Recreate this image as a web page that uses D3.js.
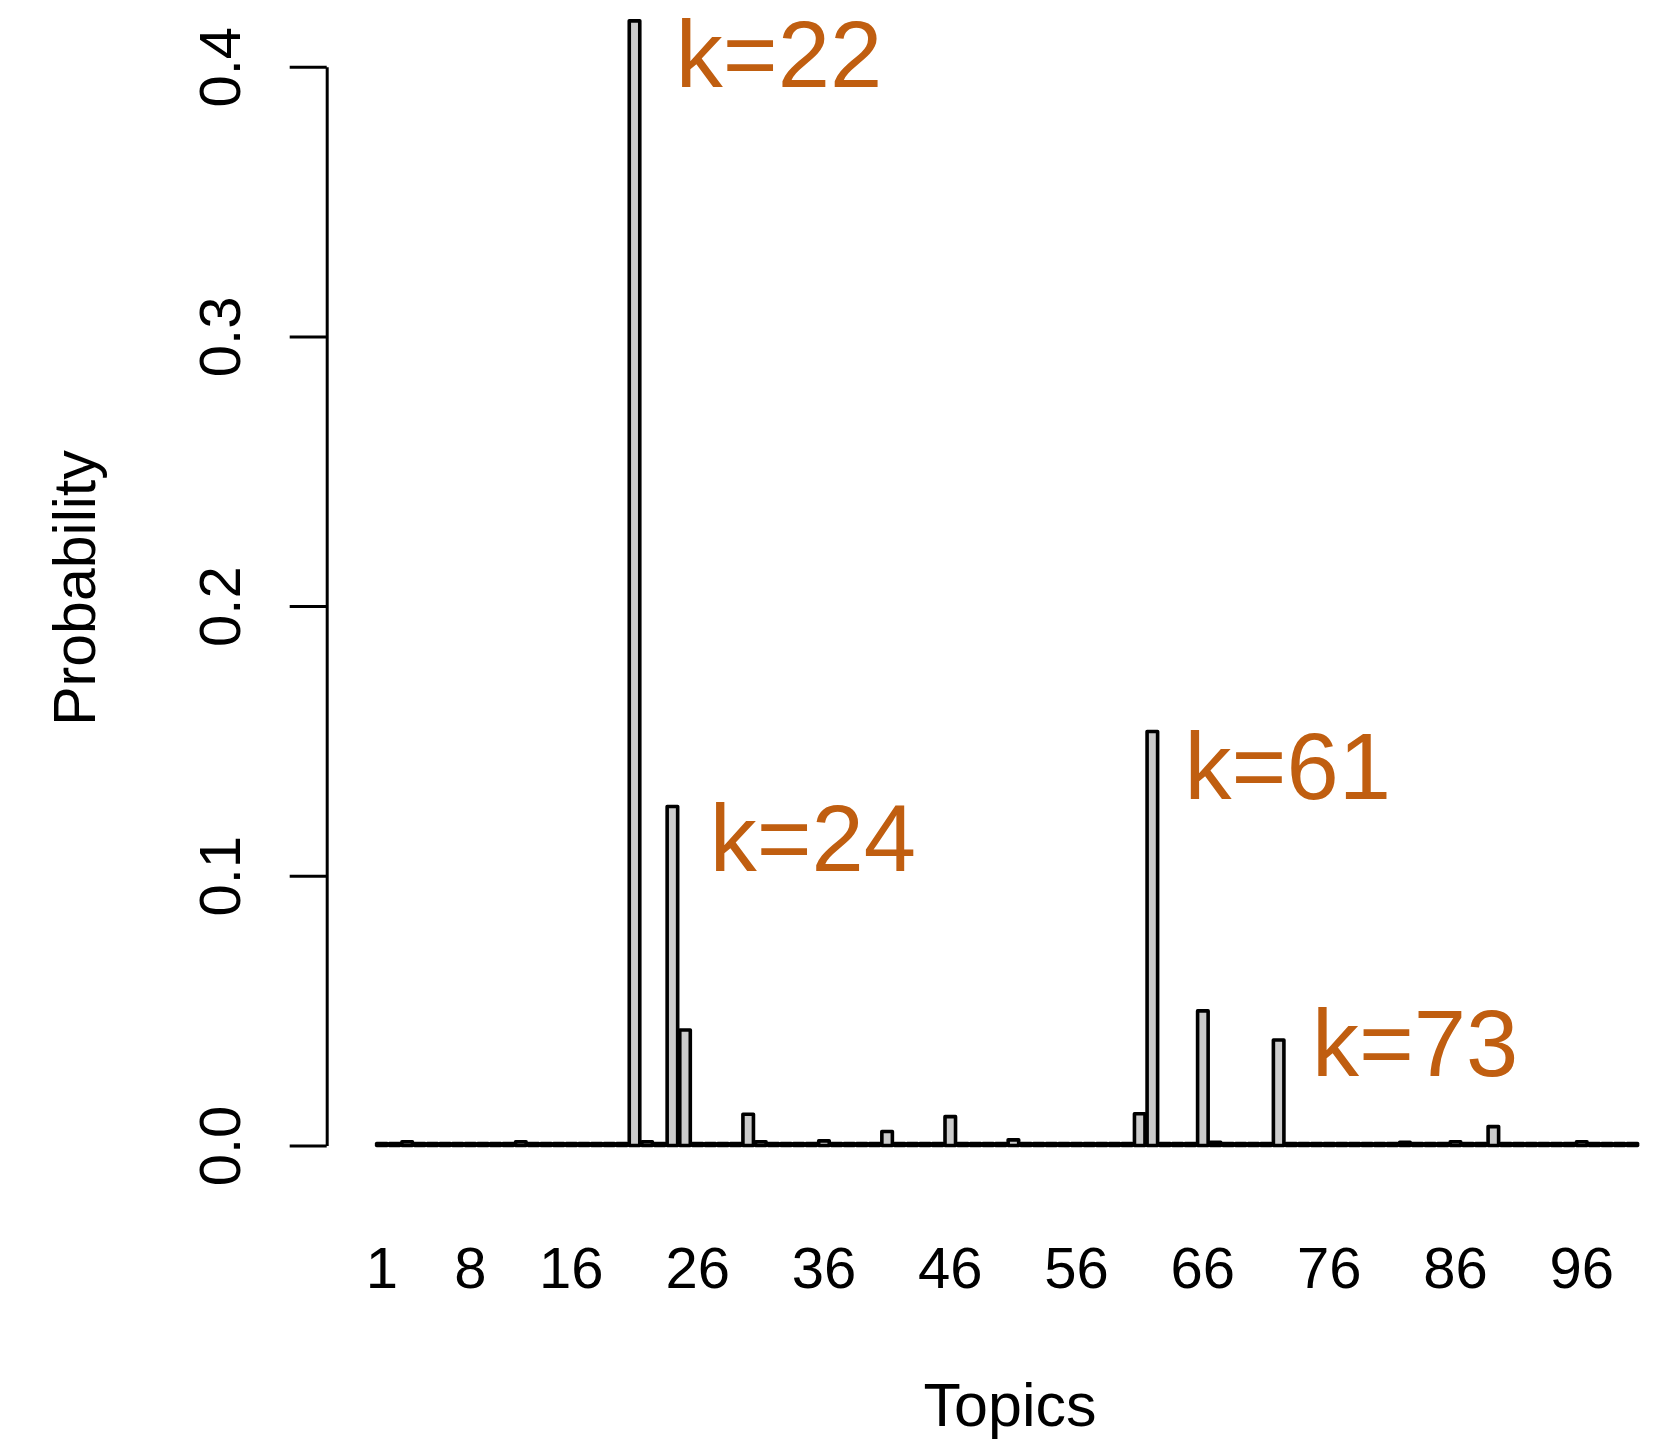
<!DOCTYPE html>
<html>
<head>
<meta charset="utf-8">
<script src="https://cdn.jsdelivr.net/npm/d3@7"></script>
<style>
  html, body { margin: 0; padding: 0; background: #fff; }
  svg { display: block; }
  text { font-family: "Liberation Sans", Arial, Helvetica, sans-serif; }
</style>
</head>
<body>
<svg id="chart" width="1665" height="1441"></svg>
<script>
// ---- data ----
const topics = d3.range(1, 101);
const probabilities = [
  0.0007, 0.0007, 0.0014, 0.0007, 0.0007, 0.0007, 0.0007, 0.0007, 0.0007, 0.0007,
  0.0007, 0.0014, 0.0007, 0.0007, 0.0007, 0.0007, 0.0007, 0.0007, 0.0007, 0.0007,
  0.4170, 0.0014, 0.0007, 0.1257, 0.0428, 0.0007, 0.0007, 0.0007, 0.0007, 0.0116,
  0.0014, 0.0007, 0.0007, 0.0007, 0.0007, 0.0017, 0.0007, 0.0007, 0.0007, 0.0007,
  0.0052, 0.0007, 0.0007, 0.0007, 0.0007, 0.0107, 0.0007, 0.0007, 0.0007, 0.0007,
  0.0021, 0.0007, 0.0007, 0.0007, 0.0007, 0.0007, 0.0007, 0.0007, 0.0007, 0.0007,
  0.0118, 0.1535, 0.0007, 0.0007, 0.0007, 0.0499, 0.0012, 0.0007, 0.0007, 0.0007,
  0.0007, 0.0391, 0.0007, 0.0007, 0.0007, 0.0007, 0.0007, 0.0007, 0.0007, 0.0007,
  0.0007, 0.0012, 0.0007, 0.0007, 0.0007, 0.0014, 0.0007, 0.0007, 0.0070, 0.0007,
  0.0007, 0.0007, 0.0007, 0.0007, 0.0007, 0.0014, 0.0007, 0.0007, 0.0007, 0.0007
];
const xTickLabels = [1, 8, 16, 26, 36, 46, 56, 66, 76, 86, 96];
const yTicks = [0, 0.1, 0.2, 0.3, 0.4];
const annotations = [
  { label: "k=22", topic: 21, value: 0.4170 },
  { label: "k=24", topic: 24, value: 0.1257 },
  { label: "k=61", topic: 62, value: 0.1535 },
  { label: "k=73", topic: 72, value: 0.0391 }
];

// ---- layout ----
const svg = d3.select("#chart");
const fontSize = 58;
const accent = "#C05E10";

const x = d3.scaleBand()
  .domain(topics)
  .range([375.6, 1638.6])
  .paddingInner(1 / 6)
  .paddingOuter(1 / 12);

const y = d3.scaleLinear()
  .domain([0, 0.4])
  .range([1145.5, 66.7]);

// bars
svg.append("g")
  .selectAll("rect")
  .data(topics)
  .join("rect")
  .attr("x", d => x(d))
  .attr("width", x.bandwidth())
  .attr("y", (d, i) => y(probabilities[i]))
  .attr("height", (d, i) => y(0) - y(probabilities[i]))
  .attr("fill", "#cccccc")
  .attr("stroke", "#000")
  .attr("stroke-width", 3.6)
  .attr("stroke-linejoin", "round");

// y axis
const yAxis = svg.append("g")
  .attr("transform", "translate(326.7,0)")
  .call(d3.axisLeft(y)
    .tickValues(yTicks)
    .tickFormat(d3.format(".1f"))
    .tickSize(37)
    .tickSizeOuter(0));
yAxis.select(".domain").attr("stroke", "#000").attr("stroke-width", 3);
yAxis.selectAll(".tick line").attr("stroke", "#000").attr("stroke-width", 3);
yAxis.selectAll(".tick text")
  .attr("transform", "rotate(-90)")
  .attr("x", 0)
  .attr("y", -86.7)
  .attr("dy", 0)
  .attr("text-anchor", "middle")
  .attr("font-size", fontSize)
  .attr("font-family", "Liberation Sans, Arial, sans-serif")
  .attr("fill", "#000");

// x axis labels (no axis line, as in barplot)
const xAxis = svg.append("g")
  .call(d3.axisBottom(x)
    .tickValues(xTickLabels)
    .tickSize(0));
xAxis.select(".domain").remove();
xAxis.selectAll(".tick text")
  .attr("y", 1288)
  .attr("dy", 0)
  .attr("font-size", fontSize)
  .attr("font-family", "Liberation Sans, Arial, sans-serif")
  .attr("fill", "#000");

// axis titles
svg.append("text")
  .attr("x", 1010)
  .attr("y", 1426)
  .attr("text-anchor", "middle")
  .attr("font-size", 61)
  .text("Topics");

svg.append("text")
  .attr("transform", "translate(95,588) rotate(-90)")
  .attr("text-anchor", "middle")
  .attr("font-size", 59)
  .text("Probability");

// annotations
const annOffsets = {
  "k=22": { dx: 36, y: 87 },
  "k=24": { dx: 32, y: 871 },
  "k=61": { dx: 27, y: 799 },
  "k=73": { dx: 28, y: 1076 }
};
svg.append("g")
  .selectAll("text")
  .data(annotations)
  .join("text")
  .attr("x", d => x(d.topic) + x.bandwidth() + annOffsets[d.label].dx)
  .attr("y", d => annOffsets[d.label].y)
  .attr("font-size", 94)
  .attr("fill", accent)
  .text(d => d.label);
</script>
</body>
</html>
